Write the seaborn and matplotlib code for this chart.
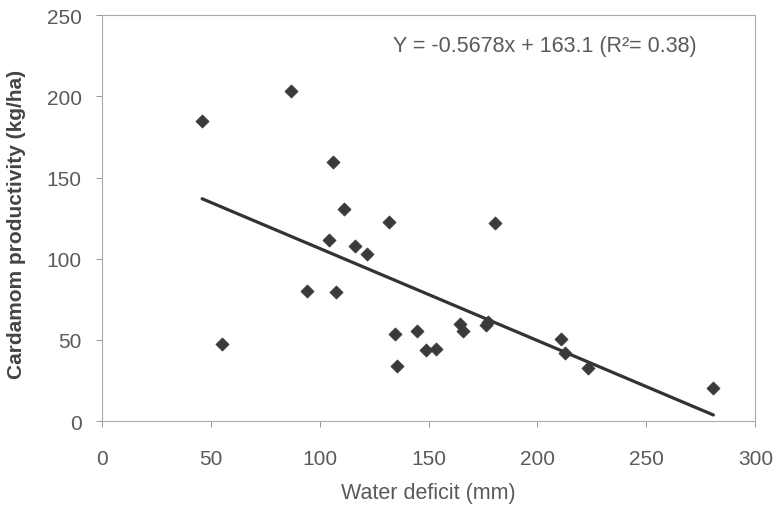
import matplotlib
matplotlib.use("Agg")
import matplotlib.pyplot as plt
import numpy as np
import pandas as pd
import seaborn as sns

# water deficit (mm) vs cardamom productivity (kg/ha)
water_deficit = [46.1, 55.2, 86.9, 94.4, 104.4, 106.1, 107.6, 111.2, 116.4, 121.7,
                 132.0, 134.8, 135.7, 144.6, 148.8, 153.6, 164.6, 165.6, 176.3, 177.4,
                 180.6, 210.7, 212.4, 223.0, 280.7]
productivity = [184.7, 47.4, 203.2, 79.9, 111.5, 159.3, 79.4, 130.4, 107.8, 102.8,
                122.7, 53.4, 34.1, 55.6, 43.9, 44.5, 59.7, 55.2, 59.1, 61.1,
                121.7, 50.5, 41.9, 32.8, 20.3]

slope = -0.5678
intercept = 163.1
r_squared = 0.38

x_ticks = [0, 50, 100, 150, 200, 250, 300]
y_ticks = [0, 50, 100, 150, 200, 250]

sns.set_style("white")
plt.rcParams["font.family"] = ["Liberation Sans", "DejaVu Sans"]

df = pd.DataFrame({"deficit": water_deficit, "prod": productivity})
x_fit = np.array([min(water_deficit), max(water_deficit)])
fit = pd.DataFrame({"deficit": x_fit, "prod": slope * x_fit + intercept})

fig = plt.figure(figsize=(7.82, 5.06), dpi=100)
ax = fig.add_axes([0.130, 0.166, 0.836, 0.802])

sns.lineplot(data=fit, x="deficit", y="prod", ax=ax, color="#333333", linewidth=2.3)
sns.scatterplot(data=df, x="deficit", y="prod", ax=ax, marker="D", s=45,
                color="#3a3a3a", edgecolor="#3a3a3a", linewidth=0.5, zorder=3)

ax.set_xlim(0, 300)
ax.set_ylim(0, 250)
ax.set_xticks(x_ticks)
ax.set_yticks(y_ticks)

text_color = "#5a5a5a"
ax.tick_params(axis="both", direction="out", length=4.3, width=0.7, color="#999999",
               labelsize=15, labelcolor=text_color)
ax.tick_params(axis="x", bottom=True, pad=16)
ax.tick_params(axis="y", left=True, pad=10)
for spine in ax.spines.values():
    spine.set_color("#aaaaaa")
    spine.set_linewidth(0.8)

ax.set_xlabel("Water deficit (mm)", fontsize=15.5, color=text_color, labelpad=10)
ax.set_ylabel("Cardamom productivity (kg/ha)", fontsize=15, fontweight="bold",
              color="#444444")
ax.yaxis.set_label_coords(-0.116, 0.488)

ax.text(0.446, 0.925, f"Y = {slope}x + {intercept} (R²= {r_squared})",
        transform=ax.transAxes, fontsize=15.5, color=text_color, va="center", ha="left")

fig.savefig("out.png", dpi=100)
